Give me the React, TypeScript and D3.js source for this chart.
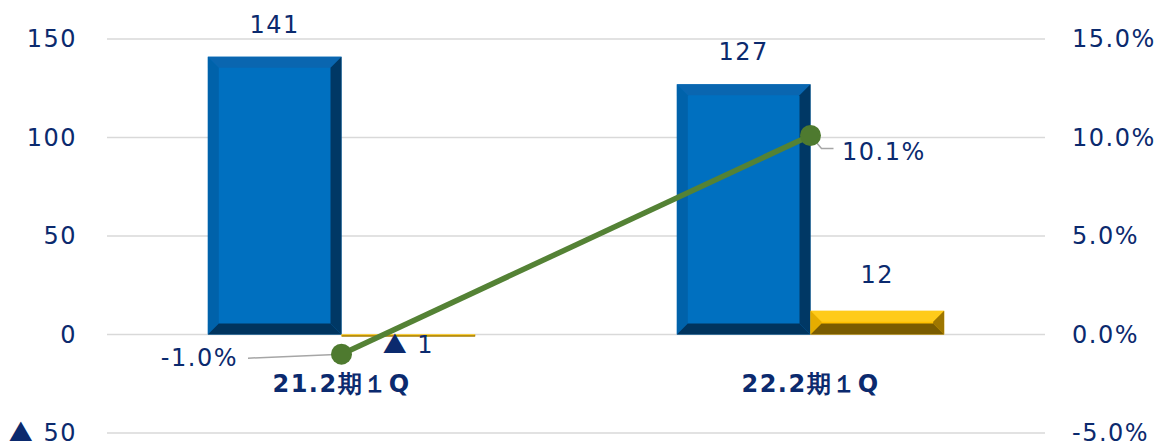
import React from "react";
import * as d3 from "d3";

const categories = ["21.2期１Q", "22.2期１Q"];
const salesValues = [141, 127];
const profitValues = [-1, 12];
const marginValues = [-1.0, 10.1];
const leftTicks = [-50, 0, 50, 100, 150];
const rightTicks = [-5, 0, 5, 10, 15];

const W = 1163;
const H = 441;
const NAVY = "#0b2a6e";
const FONT = "Verdana, 'DejaVu Sans', sans-serif";
const CJK = "'Noto Sans CJK JP', sans-serif";
const FS = 24;
const LS = 1.5;

function Num({ v }: { v: number }) {
  if (v < 0) {
    return (
      <>
        <tspan fontFamily={CJK}>▲</tspan>
        <tspan>{` ${Math.abs(v)}`}</tspan>
      </>
    );
  }
  return <>{`${v}`}</>;
}

function Bevel({ x, y, w, h, c, b }: { x: number; y: number; w: number; h: number; c: { main: string; top: string; left: string; right: string; bottom: string }; b: number }) {
  const bb = Math.min(b, h / 2, w / 2);
  const x2 = x + w, y2 = y + h;
  return (
    <g>
      <rect x={x} y={y} width={w} height={h} fill={c.main} />
      <polygon points={`${x},${y} ${x2},${y} ${x2 - bb},${y + bb} ${x + bb},${y + bb}`} fill={c.top} />
      <polygon points={`${x},${y} ${x + bb},${y + bb} ${x + bb},${y2 - bb} ${x},${y2}`} fill={c.left} />
      <polygon points={`${x2},${y} ${x2},${y2} ${x2 - bb},${y2 - bb} ${x2 - bb},${y + bb}`} fill={c.right} />
      <polygon points={`${x},${y2} ${x + bb},${y2 - bb} ${x2 - bb},${y2 - bb} ${x2},${y2}`} fill={c.bottom} />
    </g>
  );
}

const blue = { main: "#0070c0", top: "#0a66b0", left: "#0062aa", right: "#003865", bottom: "#00345e" };
const yellow = { main: "#ffc000", top: "#ffcb1a", left: "#e6ad00", right: "#9e7600", bottom: "#7a5c00" };

export default function App() {
  const x0 = 107, x1 = 1045;
  const yL = d3.scaleLinear().domain([-50, 150]).range([433, 39]);
  const yR = d3.scaleLinear().domain([-5, 15]).range([433, 39]);
  const xBand = d3.scaleBand<string>().domain(categories).range([x0, x1]).paddingInner(0.43).paddingOuter(0.215);
  const xSub = d3.scaleBand<string>().domain(["sales", "profit"]).range([0, xBand.bandwidth()]);
  const cx = (c: string) => (xBand(c) as number) + xBand.bandwidth() / 2;
  const line = d3.line<number>().x((_, i) => cx(categories[i])).y((d) => yR(d));

  return (
    <svg width={W} height={H} style={{ position: "absolute", left: 0, top: 0, background: "#fff" }} fontFamily={FONT} letterSpacing={LS}>
      {leftTicks.map((t) => (
        <g key={t}>
          <line x1={x0} x2={x1} y1={yL(t)} y2={yL(t)} stroke="#d9d9d9" strokeWidth={1.5} />
          <text x={77} y={yL(t) + 8} textAnchor="end" fontSize={FS} fill={NAVY}><Num v={t} /></text>
        </g>
      ))}
      {rightTicks.map((t) => (
        <text key={t} x={1072} y={yR(t) + 8} fontSize={FS} fill={NAVY}>{`${t.toFixed(1)}%`}</text>
      ))}
      {categories.map((c, i) => {
        const bx = xBand(c) as number;
        const sx = bx + (xSub("sales") as number);
        const px = bx + (xSub("profit") as number);
        const bw = xSub.bandwidth();
        const sTop = yL(Math.max(0, salesValues[i]));
        const sH = Math.abs(yL(salesValues[i]) - yL(0));
        const pTop = yL(Math.max(0, profitValues[i]));
        const pH = Math.abs(yL(profitValues[i]) - yL(0));
        return (
          <g key={c}>
            <Bevel x={sx} y={sTop} w={bw} h={sH} c={blue} b={11} />
            <Bevel x={px} y={pTop} w={bw} h={pH} c={yellow} b={11} />
            <text x={sx + bw / 2} y={sTop - 24} textAnchor="middle" fontSize={FS} fill={NAVY}><Num v={salesValues[i]} /></text>
            {profitValues[i] >= 0 ? (
              <text x={px + bw / 2} y={pTop - 28} textAnchor="middle" fontSize={FS} fill={NAVY}><Num v={profitValues[i]} /></text>
            ) : (
              <text x={px + bw / 2} y={yL(0) + 18} textAnchor="middle" fontSize={FS} fill={NAVY}><Num v={profitValues[i]} /></text>
            )}
            <text x={cx(c)} y={392} textAnchor="middle" fontSize={FS} fontWeight="bold" fill={NAVY}>{c}</text>
          </g>
        );
      })}
      <line x1={248} y1={yR(marginValues[0]) + 4} x2={cx(categories[0])} y2={yR(marginValues[0])} stroke="#a6a6a6" strokeWidth={1.5} />
      <polyline points={`${cx(categories[1])},${yR(marginValues[1])} ${cx(categories[1]) + 11},${yR(marginValues[1]) + 13} ${cx(categories[1]) + 23},${yR(marginValues[1]) + 13}`} fill="none" stroke="#a6a6a6" strokeWidth={1.5} />
      <path d={line(marginValues) as string} fill="none" stroke="#548235" strokeWidth={5.5} />
      {marginValues.map((v, i) => (
        <circle key={i} cx={cx(categories[i])} cy={yR(v)} r={10.5} fill="#4e7a2f" />
      ))}
      <text x={238} y={yR(marginValues[0]) + 12} textAnchor="end" fontSize={FS} fill={NAVY}>{`${marginValues[0].toFixed(1)}%`}</text>
      <text x={842} y={yR(marginValues[1]) + 24} fontSize={FS} fill={NAVY}>{`${marginValues[1].toFixed(1)}%`}</text>
    </svg>
  );
}
